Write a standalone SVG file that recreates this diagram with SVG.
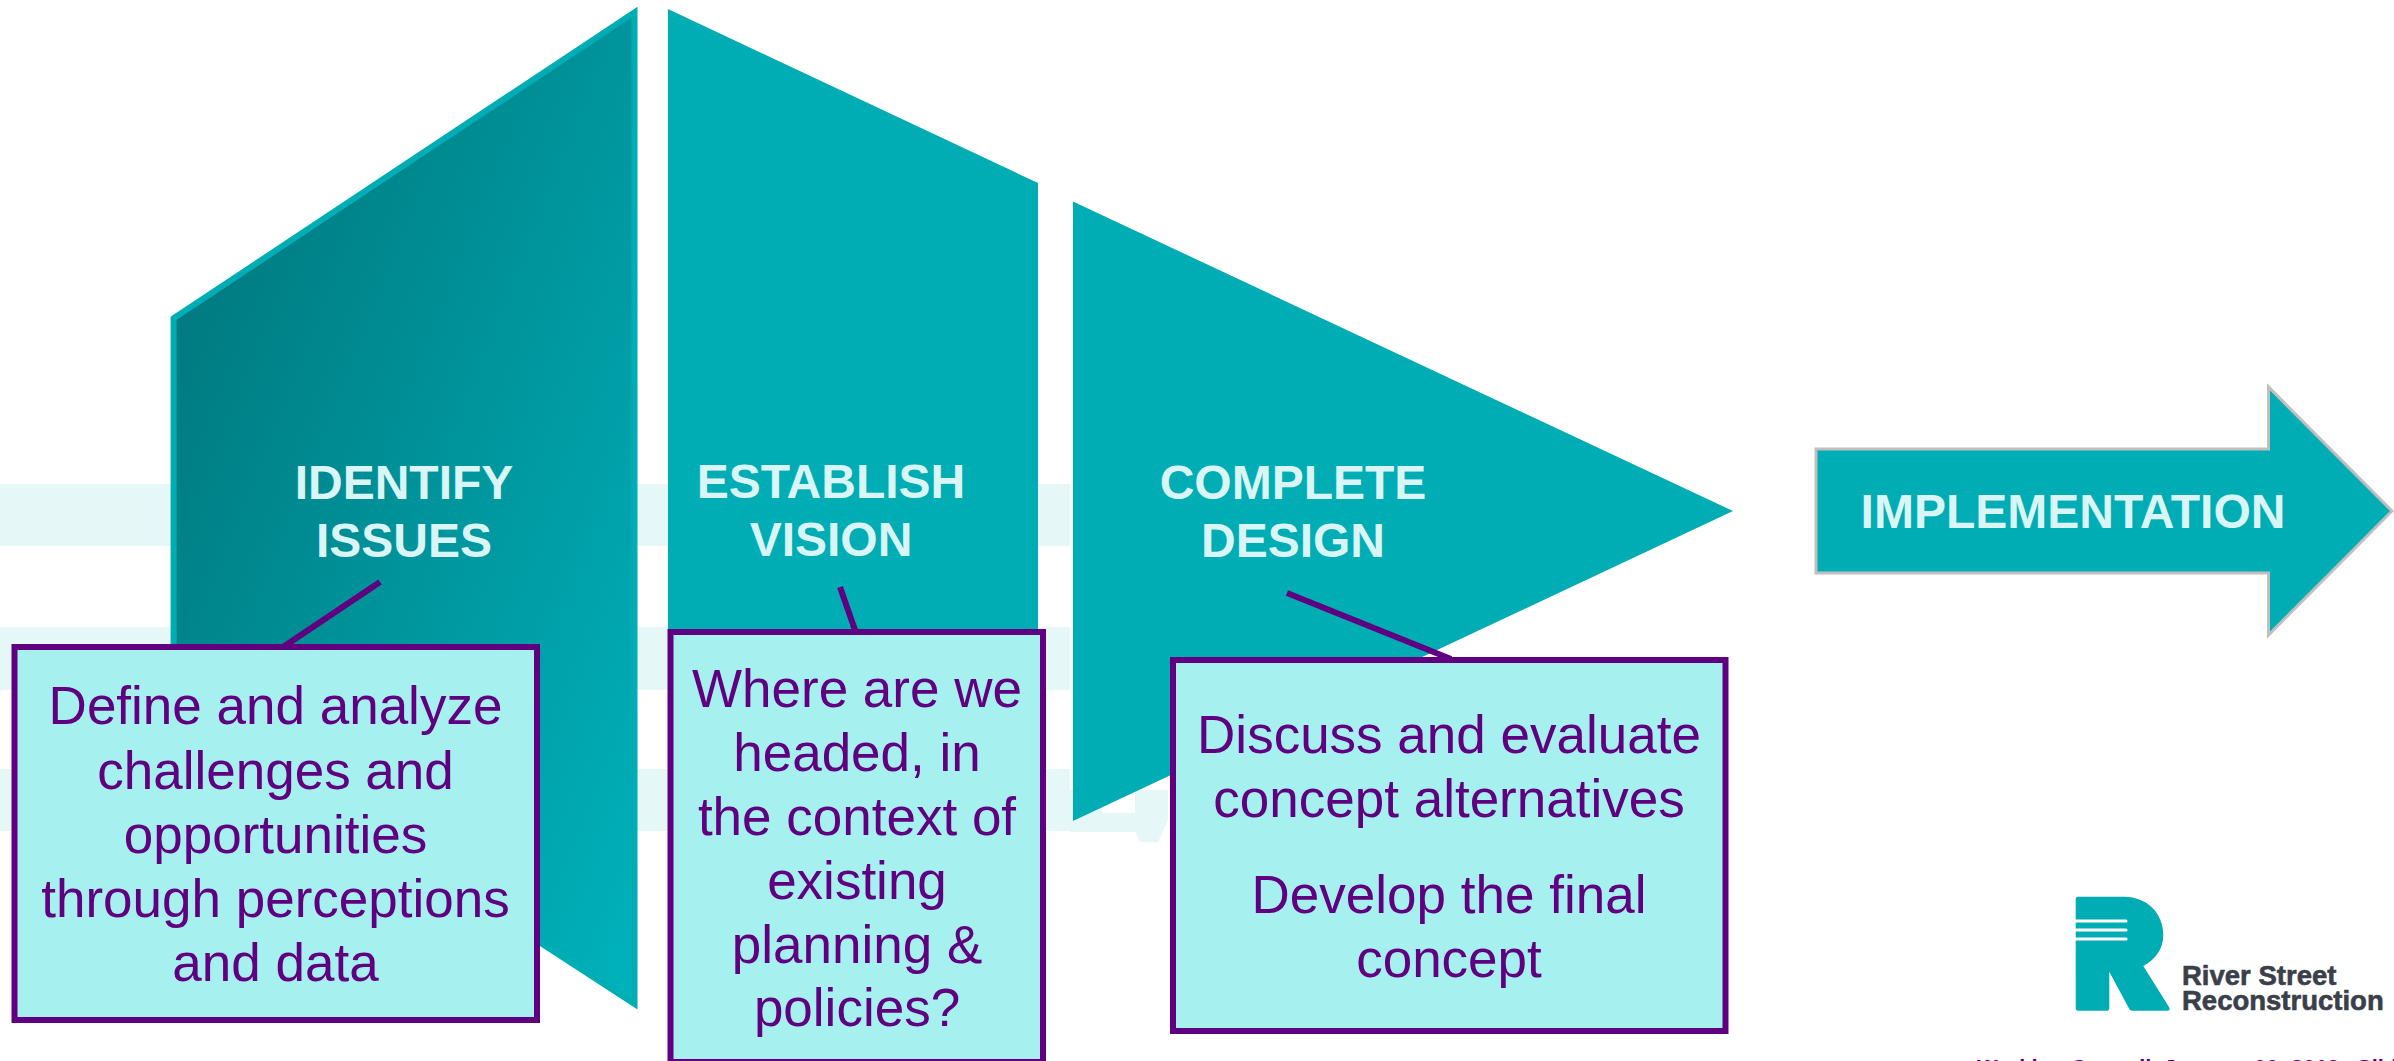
<svg xmlns="http://www.w3.org/2000/svg" width="2394" height="1061" viewBox="0 0 2394 1061">
<style>
text{font-family:"Liberation Sans",Arial,sans-serif;text-anchor:middle}
.h{font-size:48px;font-weight:700;fill:#D9F5F5}
.b{font-size:53px;fill:#600080}
.box{fill:#A6F0F0;stroke:#600080;stroke-width:6}
.t{fill:#00ADB5}
.band{fill:#E6F7F7}
.conn{stroke:#600080;stroke-width:6;fill:none}
.logo{font-size:27.500px;font-weight:700;fill:#3A3F4A;stroke:#3A3F4A;stroke-width:.6;text-anchor:start}
</style>
<defs>
<linearGradient id="g1" gradientUnits="userSpaceOnUse" x1="170" y1="320" x2="810" y2="576">
<stop offset="0" stop-color="#007A80"/><stop offset="1" stop-color="#00B3BD"/>
</linearGradient>
</defs>
<rect width="2394" height="1061" fill="#fff"/>
<g id="bands">
<rect class="band" x="0" y="484" width="1070" height="62"/>
<rect class="band" x="0" y="627" width="1070" height="63"/>
<rect class="band" x="0" y="769" width="1070" height="62"/>
<path class="band" d="M1070 790H1168V820L1158 842H1140L1135 832H1070Z"/>
<rect x="1102" y="790" width="33" height="23" fill="#fff"/>
</g>
<g id="issues">
<polygon points="173.6,318.3 634.5,12.3 634.5,1003.9 173.6,704" fill="url(#g1)" stroke="#00ADB5" stroke-width="6"/>
<text class="h" x="404" y="499">IDENTIFY</text>
<text class="h" x="404" y="557">ISSUES</text>
</g>
<g id="vision">
<polygon class="t" points="668,9 1038,183 1038,1000 668,1000"/>
<text class="h" x="831" y="498">ESTABLISH</text>
<text class="h" x="831" y="556">VISION</text>
</g>
<g id="design">
<polygon class="t" points="1073,201.5 1733,511 1073,821"/>
<text class="h" x="1293" y="499">COMPLETE</text>
<text class="h" x="1293" y="557">DESIGN</text>
</g>
<g id="implementation">
<polygon class="t" points="1816,449 2268.5,449 2268.5,387 2392,511 2268.5,635 2268.5,573 1816,573" stroke="#BFBFBF" stroke-width="3"/>
<text class="h" x="2073" y="528">IMPLEMENTATION</text>
</g>
<g id="box-issues">
<rect class="box" x="14.5" y="647" width="522.500" height="373"/>
<text class="b" x="275.500" y="724">Define and analyze</text>
<text class="b" x="275.500" y="789">challenges and</text>
<text class="b" x="275.500" y="853">opportunities</text>
<text class="b" x="275.500" y="917">through perceptions</text>
<text class="b" x="275.500" y="981">and data</text>
</g>
<g id="box-vision">
<rect class="box" x="670.500" y="632" width="372.500" height="430"/>
<text class="b" x="857" y="707">Where are we</text>
<text class="b" x="857" y="771">headed, in</text>
<text class="b" x="857" y="835">the context of</text>
<text class="b" x="857" y="899">existing</text>
<text class="b" x="857" y="963">planning &amp;</text>
<text class="b" x="857" y="1026">policies?</text>
</g>
<g id="box-design">
<rect class="box" x="1173" y="660" width="552.500" height="371"/>
<text class="b" x="1449" y="753">Discuss and evaluate</text>
<text class="b" x="1449" y="817">concept alternatives</text>
<text class="b" x="1449" y="913">Develop the final</text>
<text class="b" x="1449" y="977">concept</text>
</g>
<g id="connectors">
<line class="conn" x1="380" y1="582" x2="283" y2="647"/>
<line class="conn" x1="840" y1="587" x2="855" y2="630"/>
<line class="conn" x1="1287" y1="593" x2="1451" y2="659"/>
</g>
<g id="logo">
<path class="t" d="M2075.700 899a2.300 2.300 0 0 1 2.300-2.300H2124C2147 896.700 2163.300 913 2163.300 935C2163.300 949 2155 960 2143.300 966L2169 1007Q2171 1010.700 2167 1010.700H2132Q2130 1010.700 2129.300 1009L2109.300 971.700V1008Q2109.300 1010.700 2107 1010.700H2078Q2075.700 1010.700 2075.700 1008Z"/>
<path d="M2075.700 921H2126M2075.700 930H2126M2075.700 939H2126" stroke="#fff" stroke-width="3" stroke-linecap="round" fill="none"/>
<text class="logo" x="2182" y="985">River Street</text>
<text class="logo" x="2182" y="1010">Reconstruction</text>
</g>
<text x="1977" y="1075" style="font-size:22px;font-weight:700;fill:#600080;text-anchor:start">Working Council, January 00, 2019, <tspan x="2357">Slide</tspan></text>
</svg>
